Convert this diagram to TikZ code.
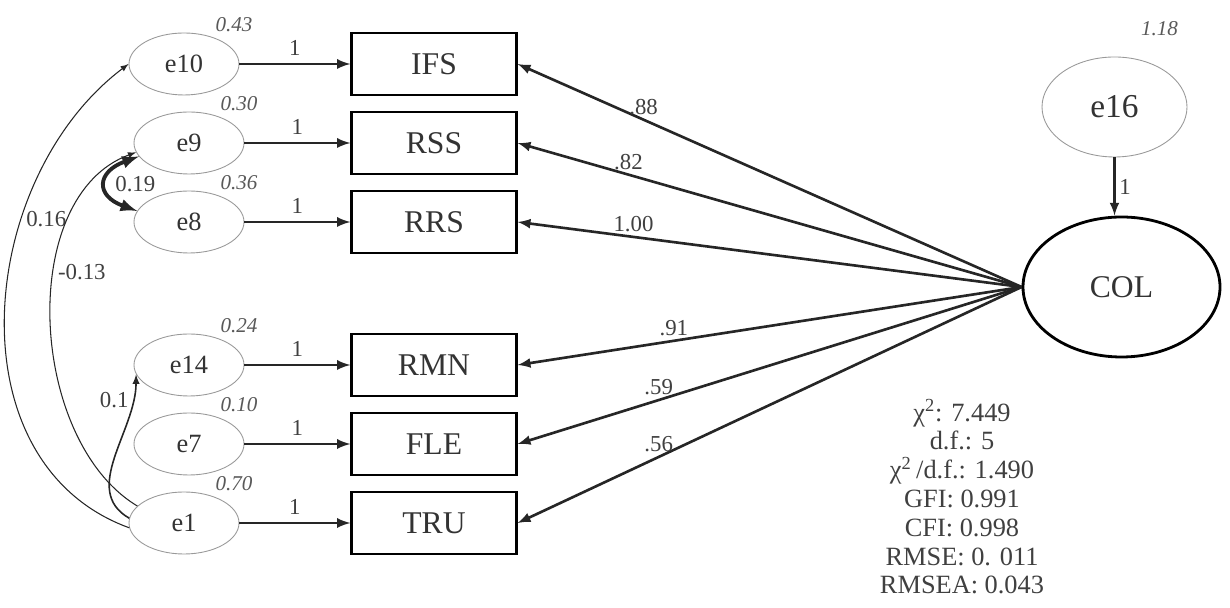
\documentclass[tikz,border=0pt]{standalone}
\usepackage{fontspec}
\setmainfont{Liberation Serif}
\usepackage{tikz}
\usetikzlibrary{shapes.geometric, arrows}
\tikzstyle{indicator} = [rectangle, minimum width=3.3cm, minimum height=1.24cm, text centered, draw=black, line width=1.3pt, font=\fontsize{18}{18}\selectfont, text=black!80]
\tikzstyle{errterm} = [ellipse, minimum width=2.2cm, minimum height=1.24cm, draw=black!40, line width=0.5pt, font=\fontsize{15}{15}\selectfont, text=black!80]
\usetikzlibrary{positioning}

\begin{document}
\begin{tikzpicture}[node distance=1.58cm]
            \tikzstyle{var} = [font=\fontsize{12}{12}\selectfont\itshape, text=black!65, xshift=1cm, label distance=-0.1cm]
            \tikzstyle{coef} = [font=\fontsize{13}{13}\selectfont, text=black!75, inner sep=2pt]
            \tikzstyle{load} = [-latex, line width=1.5pt, black!85]
            \tikzstyle{covar} = [-latex, line width=0.6pt, black!85]

            \useasboundingbox (0,0) rectangle (24.6,12.16);

            \node[indicator] (ifs) at (8.68,10.88) {IFS};
            \node[indicator, below of=ifs] (rss) {RSS};
            \node[indicator, below of=rss] (rrs) {RRS};
            \node[indicator, below of=rrs, yshift=-1.28cm] (rmn) {RMN};
            \node[indicator, below of=rmn] (fle) {FLE};
            \node[indicator, below of=fle] (tru) {TRU};

            \node[errterm, left of=ifs, node distance=4.9cm, xshift=-0.1cm, label={[var]above:0.43}] (e10) {e10};
            \node[errterm, left of=rss, node distance=4.9cm, label={[var]above:0.30}] (e9) {e9};
            \node[errterm, left of=rrs, node distance=4.9cm, label={[var]above:0.36}] (e8) {e8};
            \node[errterm, left of=rmn, node distance=4.9cm, label={[var]above:0.24}] (e14) {e14};
            \node[errterm, left of=fle, node distance=4.9cm, label={[var]above:0.10}] (e7) {e7};
            \node[errterm, left of=tru, node distance=4.9cm, xshift=-0.1cm, label={[var]above:0.70}] (e1) {e1};

            \node[ellipse, draw=black, line width=1.6pt, minimum width=3.94cm, minimum height=2.8cm, font=\fontsize{18}{18}\selectfont, text=black!80] (col) at (22.43,6.42) {COL};
            \node[errterm, above of=col, node distance=3.6cm, xshift=-0.14cm, minimum width=2.9cm, minimum height=2cm, font=\fontsize{19}{19}\selectfont, label={[var, xshift=-0.1cm, label distance=0.3cm]above:1.18}] (e16) {e16};

            \node[align=center, font=\fontsize{15}{16.4}\selectfont, text=black!75] (fitidx) at (19.24,2.22)
                {χ\textsuperscript{2}: 7.449\\ d.f.: 5\\ χ\textsuperscript{2}\,/d.f.: 1.490\\ GFI: 0.991\\ CFI: 0.998\\ RMSE: 0. 011\\ RMSEA: 0.043};

            \draw[load, line width=1.6pt] (e10) -- node[coef, above=2pt] {1} (ifs);
            \draw[load, line width=1.6pt] (e9) -- node[coef, above=2pt] {1} (rss);
            \draw[load, line width=1.6pt] (e8) -- node[coef, above=2pt] {1} (rrs);
            \draw[load, line width=1.6pt] (e14) -- node[coef, above=2pt] {1} (rmn);
            \draw[load, line width=1.6pt] (e7) -- node[coef, above=2pt] {1} (fle);
            \draw[load, line width=1.6pt] (e1) -- node[coef, above=2pt] {1} (tru);
            \draw[load] (e16.south) -- node[coef, right] {1} (e16.south |- col.north);

            \draw[load] (col.west) -- node[coef, pos=.75, above] {.88} (ifs.east);
            \draw[load] (col.west) -- node[coef, pos=.78, above] {.82} (rss.east);
            \draw[load] (col.west) -- node[coef, pos=.77, above] {1.00} (rrs.east);
            \draw[load] (col.west) -- node[coef, pos=.69, above] {.91} (rmn.east);
            \draw[load] (col.west) -- node[coef, pos=.72, above] {.59} (fle.east);
            \draw[load] (col.west) -- node[coef, pos=.72, above] {.56} (tru.east);

            % covariances between error terms
            \draw[covar] (e1.185) to[out=160, in=217, looseness=1.05] node[coef, pos=0.67, right] {0.16} (e10.west);
            \draw[covar] (e1.160) to[out=149, in=200, looseness=0.92] node[coef, pos=0.61, right] {-0.13} (e9.190);
            \draw[covar, line width=0.9pt] (e1.175) to[out=150, in=270] node[coef, pos=0.85, left] {0.1} (e14.190);
            \draw[covar, latex-latex, line width=2.2pt] (e9.195) to[out=200, in=160, looseness=2.1] node[coef, midway, right=2pt] {0.19} (e8.168);

        \end{tikzpicture}
\end{document}
